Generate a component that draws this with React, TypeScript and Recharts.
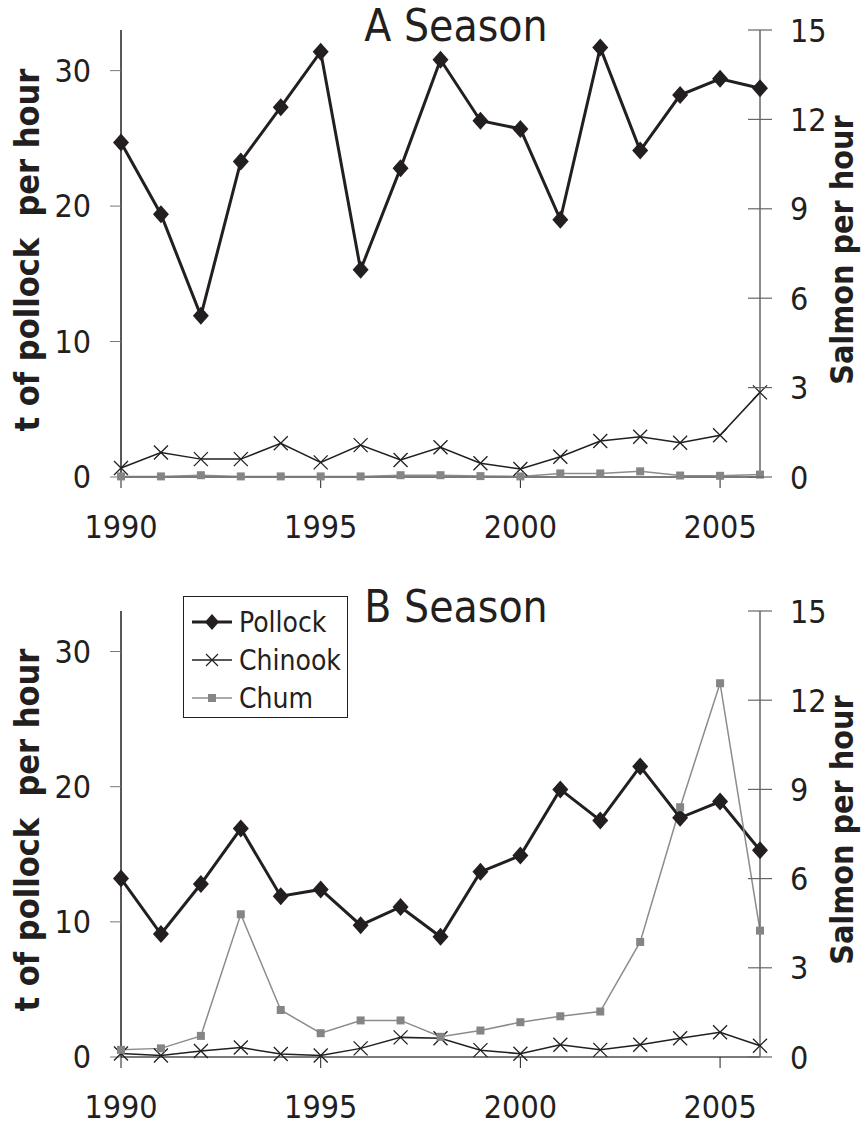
import { Line, LineChart, XAxis, YAxis } from 'recharts'

const years = [1990, 1991, 1992, 1993, 1994, 1995, 1996, 1997, 1998, 1999, 2000, 2001, 2002, 2003, 2004, 2005, 2006]

const pollockA = [24.7, 19.4, 11.9, 23.3, 27.3, 31.4, 15.3, 22.8, 30.8, 26.3, 25.7, 19.0, 31.7, 24.1, 28.2, 29.4, 28.7]
const chinookA = [0.3, 0.82, 0.6, 0.6, 1.13, 0.49, 1.07, 0.57, 1.0, 0.46, 0.27, 0.68, 1.21, 1.35, 1.15, 1.4, 2.84]
const chumA = [0.02, 0.02, 0.06, 0.02, 0.02, 0.02, 0.02, 0.06, 0.06, 0.03, 0.02, 0.12, 0.12, 0.19, 0.05, 0.04, 0.08]

const pollockB = [13.2, 9.1, 12.8, 16.9, 11.9, 12.4, 9.75, 11.1, 8.9, 13.7, 14.9, 19.8, 17.5, 21.5, 17.7, 18.9, 15.3]
const chinookB = [0.12, 0.05, 0.2, 0.32, 0.1, 0.05, 0.29, 0.66, 0.63, 0.23, 0.11, 0.41, 0.24, 0.41, 0.63, 0.83, 0.38]
const chumB = [0.24, 0.29, 0.71, 4.8, 1.58, 0.8, 1.23, 1.23, 0.68, 0.89, 1.17, 1.37, 1.53, 3.87, 8.4, 12.57, 4.25]

const yearTicks = [1990, 1995, 2000, 2005]
const pollockTicks = [0, 10, 20, 30]
const salmonTicks = [0, 3, 6, 9, 12, 15]
const seriesNames = ['Pollock', 'Chinook', 'Chum']

const W = 862
const H = 566
const PLOT_LEFT = 121
const PLOT_RIGHT = 760
const font = "'DejaVu Sans Condensed', 'DejaVu Sans', sans-serif"
const ink = '#231f20'

const build = (p: number[], c: number[], s: number[]) =>
  years.map((year, i) => ({ year, pollock: p[i], chinook: c[i], chum: s[i] }))

const dataA = build(pollockA, chinookA, chumA)
const dataB = build(pollockB, chinookB, chumB)

const Diamond = (props: any) => {
  const { cx, cy, index } = props
  return <polygon key={`p${index}`} points={`${cx},${cy - 9} ${cx + 8},${cy} ${cx},${cy + 9} ${cx - 8},${cy}`} fill={ink} />
}

const Cross = (props: any) => {
  const { cx, cy, index } = props
  const r = 7
  return (
    <path key={`c${index}`} d={`M${cx - r},${cy - r}L${cx + r},${cy + r}M${cx - r},${cy + r}L${cx + r},${cy - r}`} stroke={ink} strokeWidth={1.3} fill="none" />
  )
}

const Square = (props: any) => {
  const { cx, cy, index } = props
  return <rect key={`s${index}`} x={cx - 4} y={cy - 4} width={8} height={8} fill="#858585" />
}

const RightTick = (props: any) => {
  const { y, payload } = props
  return (
    <g>
      <line x1={PLOT_RIGHT - 12} x2={PLOT_RIGHT + 12} y1={y} y2={y} stroke="#666" strokeWidth={1.2} />
      <text x={PLOT_RIGHT + 30} y={y} dy="0.36em" textAnchor="start" fill={ink} fontSize={32} fontFamily={font}>
        {payload.value}
      </text>
    </g>
  )
}

const legendIcons = [
  <><line x1={0} x2={40} y1={10} y2={10} stroke={ink} strokeWidth={3} /><polygon points="20,2 27,10 20,18 13,10" fill={ink} /></>,
  <><line x1={0} x2={40} y1={10} y2={10} stroke={ink} strokeWidth={1.3} /><path d="M14,4L26,16M14,16L26,4" stroke={ink} strokeWidth={1.2} /></>,
  <><line x1={0} x2={40} y1={10} y2={10} stroke="#8c8c8c" strokeWidth={1.5} /><rect x={16} y={6} width={8} height={8} fill="#858585" /></>,
]

const LegendBox = ({ left, top }: { left: number; top: number }) => (
  <div style={{ position: 'absolute', left, top, border: `1.5px solid ${ink}`, background: '#fff', width: 165, height: 122, boxSizing: 'border-box', padding: '6px 0 0 8px', fontFamily: font, fontSize: 28, color: ink }}>
    {seriesNames.map((name, i) => (
      <div key={name} style={{ display: 'flex', alignItems: 'center', height: 38 }}>
        <svg width={40} height={20} style={{ marginRight: 7 }}>{legendIcons[i]}</svg>
        <span>{name}</span>
      </div>
    ))}
  </div>
)

function Panel({ data, title, top, marginTop }: { data: any[]; title: string; top: number; marginTop: number }) {
  const tickStyle = { fontSize: 32, fill: ink, fontFamily: font }
  const plotTop = top + marginTop
  const plotBottom = top + H - 89
  const midY = (plotTop + plotBottom) / 2
  return (
    <>
      <div style={{ position: 'absolute', left: 0, top }}>
        <LineChart width={W} height={H} data={data} margin={{ top: marginTop, right: 0, bottom: 0, left: 0 }}>
          <XAxis
            dataKey="year"
            type="number"
            domain={[1990, 2006]}
            ticks={yearTicks}
            tick={tickStyle}
            tickSize={11}
            tickMargin={27}
            height={89}
            axisLine={{ stroke: '#7a7a7a', strokeWidth: 2 }}
            tickLine={{ stroke: ink }}
          />
          <YAxis
            yAxisId="left"
            domain={[0, 33]}
            ticks={pollockTicks}
            width={PLOT_LEFT}
            tick={tickStyle}
            tickSize={11}
            tickMargin={19}
            axisLine={{ stroke: ink, strokeWidth: 1.5 }}
            tickLine={{ stroke: '#777' }}
            allowDataOverflow
          />
          <YAxis
            yAxisId="right"
            orientation="right"
            domain={[0, 15]}
            ticks={salmonTicks}
            width={W - PLOT_RIGHT}
            tick={<RightTick />}
            tickLine={false}
            axisLine={{ stroke: '#666', strokeWidth: 1.5 }}
          />
          <Line yAxisId="left" dataKey="pollock" name={seriesNames[0]} stroke={ink} strokeWidth={3} dot={Diamond} isAnimationActive={false} />
          <Line yAxisId="right" dataKey="chinook" name={seriesNames[1]} stroke={ink} strokeWidth={1.5} dot={Cross} isAnimationActive={false} />
          <Line yAxisId="right" dataKey="chum" name={seriesNames[2]} stroke="#8c8c8c" strokeWidth={1.5} dot={Square} isAnimationActive={false} />
        </LineChart>
      </div>
      <div style={{ position: 'absolute', left: 456, top: plotTop - 4, transform: 'translate(-50%, -50%)', fontFamily: font, fontSize: 44, color: ink, lineHeight: 1, whiteSpace: 'nowrap' }}>
        {title}
      </div>
      <div style={{ position: 'absolute', left: 27, top: midY - 4, transform: 'translate(-50%, -50%) rotate(-90deg)', fontFamily: font, fontWeight: 'bold', fontSize: 34, color: ink, lineHeight: 1, whiteSpace: 'pre' }}>
        {'t of pollock  per hour'}
      </div>
      <div style={{ position: 'absolute', left: 842, top: midY - 4, transform: 'translate(-50%, -50%) rotate(-90deg)', fontFamily: font, fontWeight: 'bold', fontSize: 32, color: ink, lineHeight: 1, whiteSpace: 'pre' }}>
        Salmon per hour
      </div>
    </>
  )
}

export default function App() {
  return (
    <div style={{ position: 'absolute', left: 0, top: 0, width: W, height: 1132, background: '#fff', overflow: 'hidden' }}>
      <Panel data={dataA} title="A Season" top={0} marginTop={30} />
      <Panel data={dataB} title="B Season" top={580} marginTop={31} />
      <LegendBox left={183} top={596} />
    </div>
  )
}
